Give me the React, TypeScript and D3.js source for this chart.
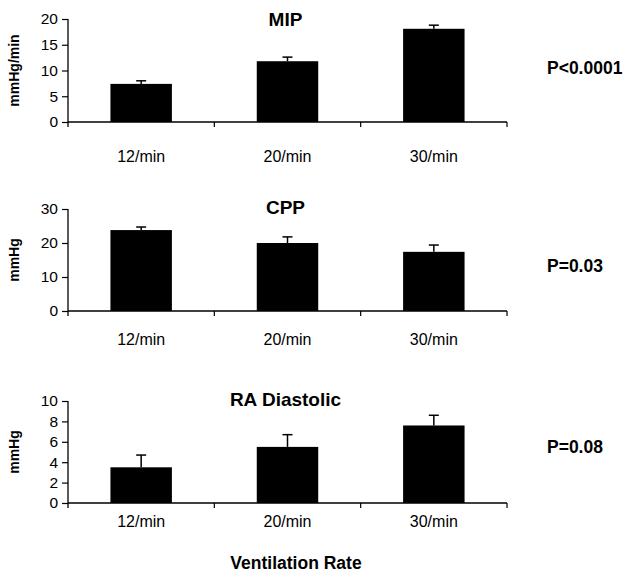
import React, { useEffect, useRef } from "react";
import * as d3 from "d3";

// categories
const rates = ["12/min", "20/min", "30/min"];

// MIP (mmHg/min)
const mipMean = [7.4, 11.8, 18.1];
const mipErr = [0.6, 0.8, 0.7];
const mipTicks = [0, 5, 10, 15, 20];

// CPP (mmHg)
const cppMean = [23.8, 20.0, 17.4];
const cppErr = [0.9, 1.8, 2.0];
const cppTicks = [0, 10, 20, 30];

// RA Diastolic (mmHg)
const raMean = [3.5, 5.5, 7.6];
const raErr = [1.2, 1.2, 1.0];
const raTicks = [0, 2, 4, 6, 8, 10];

const panels = [
    { title: "MIP", yLabel: "mmHg/min", mean: mipMean, err: mipErr, ticks: mipTicks, pText: "P<0.0001" },
    { title: "CPP", yLabel: "mmHg", mean: cppMean, err: cppErr, ticks: cppTicks, pText: "P=0.03" },
    { title: "RA Diastolic", yLabel: "mmHg", mean: raMean, err: raErr, ticks: raTicks, pText: "P=0.08" },
];

// layout per panel (pixel positions of axis top / bottom, labels)
const layout = [
    { top: 19, bottom: 122, titleY: 26, labelY: 156, pY: 68 },
    { top: 209, bottom: 311, titleY: 214, labelY: 339, pY: 266 },
    { top: 401, bottom: 503, titleY: 406, labelY: 521, pY: 447 },
];

const FONT = "'Liberation Sans', Arial, Helvetica, sans-serif";

export default function App() {
    const svgRef = useRef<SVGSVGElement | null>(null);

    useEffect(() => {
        if (!svgRef.current) return;
        const svgEl = d3.select(svgRef.current);
        svgEl.selectAll("*").remove();

        const width = 631;
        const height = 586;
        svgEl.attr("viewBox", `0 0 ${width} ${height}`);

        svgEl.append("rect").attr("width", width).attr("height", height).attr("fill", "#fff");

        const left = 68;
        const right = 507;

        const xScale = d3
            .scaleBand<string>()
            .domain(rates)
            .range([left, right])
            .paddingInner(0.58)
            .paddingOuter(0.29);
        const step = xScale.step();

        panels.forEach((p, i) => {
            const L = layout[i];
            const yScale = d3
                .scaleLinear()
                .domain([p.ticks[0], p.ticks[p.ticks.length - 1]])
                .range([L.bottom, L.top]);

            const g = svgEl.append("g").attr("font-family", FONT).attr("fill", "#000");

            // y axis
            const yAxis = d3.axisLeft(yScale).tickValues(p.ticks).tickSize(6).tickSizeOuter(0).tickPadding(4);
            const ya = g.append("g").attr("transform", `translate(${left},0)`).call(yAxis);
            ya.select(".domain").attr("stroke", "#000").attr("stroke-width", 1.3)
                .attr("d", `M0,${L.top}V${L.bottom + 5}`);
            ya.selectAll(".tick line").attr("stroke", "#000").attr("stroke-width", 1.2);
            ya.selectAll("text")
                .attr("font-size", 15.5)
                .attr("font-family", FONT)
                .attr("fill", "#000");

            // x axis line + boundary ticks
            g.append("line")
                .attr("x1", left).attr("x2", right)
                .attr("y1", L.bottom).attr("y2", L.bottom)
                .attr("stroke", "#000").attr("stroke-width", 1.3);
            [1, 2, 3].forEach((k) => {
                const x = left + step * k;
                g.append("line")
                    .attr("x1", x).attr("x2", x)
                    .attr("y1", L.bottom).attr("y2", L.bottom + 5)
                    .attr("stroke", "#000").attr("stroke-width", 1.2);
            });

            // bars
            g.selectAll(".bar")
                .data(p.mean)
                .enter()
                .append("rect")
                .attr("x", (_, j) => xScale(rates[j]) ?? 0)
                .attr("width", xScale.bandwidth())
                .attr("y", (d) => yScale(d))
                .attr("height", (d) => L.bottom - yScale(d))
                .attr("fill", "#000");

            // error bars (upper only)
            p.mean.forEach((m, j) => {
                const cx = (xScale(rates[j]) ?? 0) + xScale.bandwidth() / 2;
                const yTop = yScale(m + p.err[j]);
                g.append("line")
                    .attr("x1", cx).attr("x2", cx)
                    .attr("y1", yScale(m)).attr("y2", yTop)
                    .attr("stroke", "#000").attr("stroke-width", 1.5);
                g.append("line")
                    .attr("x1", cx - 5).attr("x2", cx + 5)
                    .attr("y1", yTop).attr("y2", yTop)
                    .attr("stroke", "#000").attr("stroke-width", 1.5);
            });

            // category labels
            rates.forEach((r) => {
                g.append("text")
                    .attr("x", (xScale(r) ?? 0) + xScale.bandwidth() / 2)
                    .attr("y", L.labelY)
                    .attr("text-anchor", "middle")
                    .attr("dominant-baseline", "central")
                    .attr("font-size", 16)
                    .text(r);
            });

            // title
            g.append("text")
                .attr("x", xScale("20/min")! + xScale.bandwidth() / 2 - 2)
                .attr("y", L.titleY)
                .attr("text-anchor", "middle")
                .attr("font-size", 19)
                .attr("font-weight", "bold")
                .text(p.title);

            // y label
            g.append("text")
                .attr("transform", `translate(19,${(L.top + L.bottom) / 2}) rotate(-90)`)
                .attr("text-anchor", "middle")
                .attr("font-size", 14)
                .attr("font-weight", "bold")
                .text(p.yLabel);

            // p value
            g.append("text")
                .attr("x", 547)
                .attr("y", L.pY)
                .attr("dominant-baseline", "central")
                .attr("font-size", 17.5)
                .attr("font-weight", "bold")
                .text(p.pText);
        });

        svgEl.append("text")
            .attr("x", 296)
            .attr("y", 563)
            .attr("text-anchor", "middle")
            .attr("dominant-baseline", "central")
            .attr("font-family", FONT)
            .attr("font-size", 17.5)
            .attr("font-weight", "bold")
            .text("Ventilation Rate");
    }, []);

    return (
        <svg
            ref={svgRef}
            width={631}
            height={586}
            style={{ position: "absolute", left: 0, top: 0, display: "block" }}
        />
    );
}
